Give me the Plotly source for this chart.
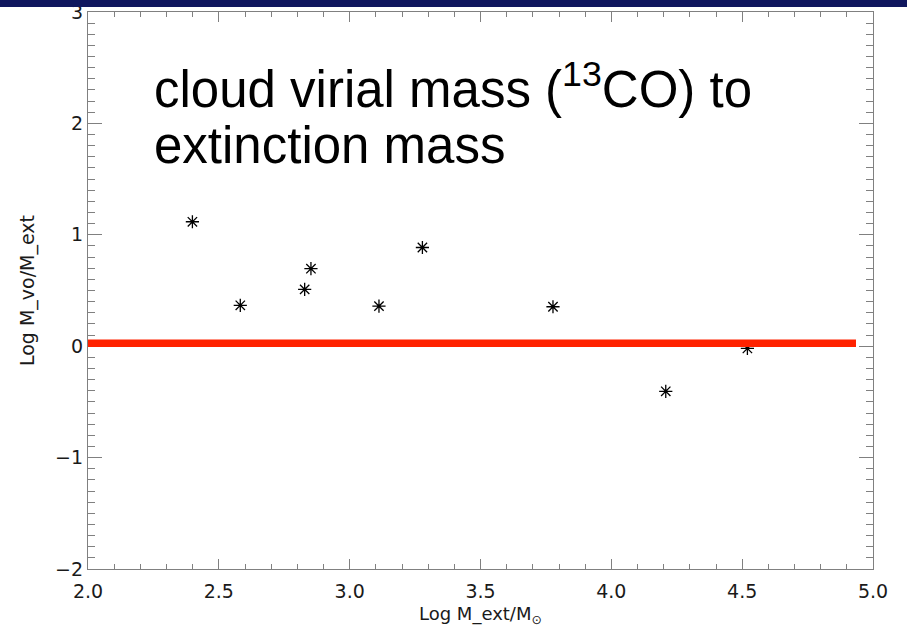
import plotly.graph_objects as go

# Cloud measurements: log extinction mass vs log(virial mass / extinction mass)
log_m_ext = [2.399, 2.582, 2.828, 2.852, 3.112, 3.278, 3.777, 4.208, 4.520]
log_ratio = [1.117, 0.367, 0.510, 0.696, 0.360, 0.886, 0.354, -0.405, -0.020]

# Reference level drawn across the panel
ref_level = 0.027
ref_x_start, ref_x_end = 2.0, 4.935

x_ticks = [2.0, 2.5, 3.0, 3.5, 4.0, 4.5, 5.0]
x_tick_text = ["2.0", "2.5", "3.0", "3.5", "4.0", "4.5", "5.0"]
y_ticks = [-2, -1, 0, 1, 2, 3]
y_tick_text = ["\u22122", "\u22121", "0", "1", "2", "3"]

fig = go.Figure()

fig.add_trace(go.Scatter(
    x=log_m_ext, y=log_ratio, mode="markers",
    marker=dict(symbol="asterisk-open", size=11, color="black",
                line=dict(color="black", width=1.3)),
    hoverinfo="x+y", showlegend=False,
))

axis_common = dict(
    showgrid=False, zeroline=False, showline=True, linecolor="#808080",
    linewidth=1.3, mirror="ticks", ticks="inside", tickcolor="#808080",
    tickwidth=1.2, automargin=False,
    tickfont=dict(family="DejaVu Sans", size=19, color="#1a1a1a"),
)

fig.update_xaxes(
    range=[2.0, 5.0], tickvals=x_ticks, ticktext=x_tick_text, ticklen=10,
    ticklabelstandoff=5,
    minor=dict(ticks="inside", dtick=0.1, ticklen=5, tickcolor="#808080",
               tickwidth=1.1, showgrid=False),
    **axis_common,
)
fig.update_yaxes(
    range=[-2, 3], tickvals=y_ticks, ticktext=y_tick_text, ticklen=14,
    minor=dict(ticks="inside", dtick=0.1, ticklen=7, tickcolor="#808080",
               tickwidth=1.1, showgrid=False),
    title=dict(text="Log M_vo/M_ext",
               font=dict(family="DejaVu Sans", size=19, color="#1a1a1a")),
    **axis_common,
)

# x-axis title placed just under the tick labels
fig.add_annotation(xref="paper", yref="paper", x=0.5, y=-0.082,
                   xanchor="center", yanchor="middle", showarrow=False,
                   text="Log M_ext/M<sub>\u2299</sub>",
                   font=dict(family="DejaVu Sans", size=18, color="#1a1a1a"))

# Red reference band at log ratio ~ 0
fig.add_shape(type="line", xref="x", yref="y",
              x0=ref_x_start, x1=ref_x_end, y0=ref_level, y1=ref_level,
              line=dict(color="#ff2200", width=7.5), layer="above")

# Dark header strip along the top edge of the page
fig.add_shape(type="rect", xref="paper", yref="paper",
              x0=-0.2, x1=1.1, y0=1.009, y1=1.04,
              fillcolor="#10175e", line=dict(width=0), layer="above")

title_font = dict(family="Liberation Sans, Arial, Helvetica", size=51, color="black")
fig.add_annotation(xref="paper", yref="paper", x=0.081, y=0.868,
                   xanchor="left", yanchor="middle", showarrow=False,
                   text="cloud virial mass (<sup>13</sup>CO) to", font=title_font)
fig.add_annotation(xref="paper", yref="paper", x=0.081, y=0.760,
                   xanchor="left", yanchor="middle", showarrow=False,
                   text="extinction mass", font=title_font)

fig.update_layout(
    width=907, height=629,
    margin=dict(l=88, r=34, t=12, b=60),
    paper_bgcolor="white", plot_bgcolor="white",
)

fig.write_html("out.html")
